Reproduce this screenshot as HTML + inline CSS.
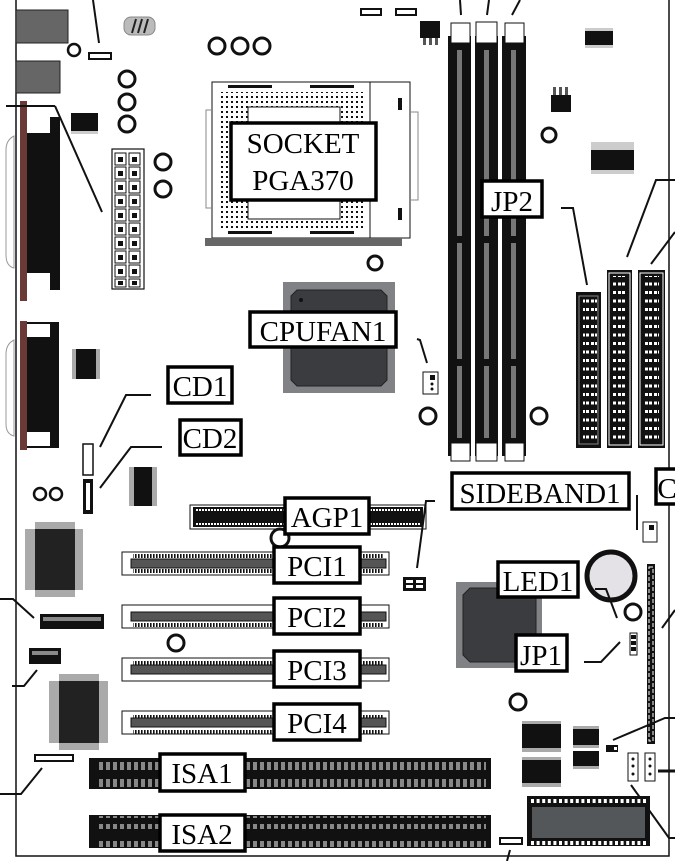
<!DOCTYPE html>
<html><head><meta charset="utf-8"><style>
html,body{margin:0;padding:0;background:#fff;width:675px;height:861px;overflow:hidden}
svg{display:block}
text{font-family:"Liberation Serif",serif;fill:#000}
</style></head><body>
<svg width="675" height="861" viewBox="0 0 675 861" xmlns="http://www.w3.org/2000/svg">
<defs>
<pattern id="dots" width="5" height="5" patternUnits="userSpaceOnUse"><rect x="1" y="1" width="2" height="2" fill="#111"/></pattern>
<pattern id="idepins" width="9" height="8.5" patternUnits="userSpaceOnUse"><rect x="1" y="2" width="3" height="3" fill="#fff"/><rect x="6" y="2" width="3" height="3" fill="#fff"/></pattern>
<pattern id="isapins" width="7" height="31" patternUnits="userSpaceOnUse"><rect x="1" y="4" width="4" height="8" fill="#888"/><rect x="1" y="18" width="4" height="8" fill="#888"/></pattern>
<pattern id="pcipins" width="3" height="23" patternUnits="userSpaceOnUse"><rect x="0" y="2" width="1.6" height="4" fill="#111"/><rect x="0" y="17" width="1.6" height="4" fill="#111"/></pattern>
</defs>
<path d="M16 0 V856 H669 V0" fill="none" stroke="#111" stroke-width="1.5"/>

<!-- top-left ports -->
<rect x="16" y="10" width="52" height="33" fill="#666" stroke="#222"/>
<rect x="16" y="61" width="44" height="32" fill="#666" stroke="#222"/>
<circle cx="74" cy="50" r="6" fill="none" stroke="#111" stroke-width="2.5"/>
<rect x="89" y="53" width="22" height="6" fill="#fff" stroke="#111" stroke-width="2"/>
<line x1="93" y1="0" x2="99" y2="43" stroke="#111" stroke-width="2"/>
<rect x="124" y="17" width="31" height="18" rx="7" fill="#bbb" stroke="#888"/>
<path d="M132 33 L136 19 M138 33 L142 19 M144 33 L148 19" stroke="#222" stroke-width="2"/>
<circle cx="127" cy="79" r="8" fill="none" stroke="#111" stroke-width="3"/>
<circle cx="127" cy="102" r="8" fill="none" stroke="#111" stroke-width="3"/>
<circle cx="127" cy="124" r="8" fill="none" stroke="#111" stroke-width="3"/>
<circle cx="163" cy="162" r="8" fill="none" stroke="#111" stroke-width="3"/>
<circle cx="163" cy="189" r="8" fill="none" stroke="#111" stroke-width="3"/>
<circle cx="217" cy="46" r="8" fill="none" stroke="#111" stroke-width="3"/>
<circle cx="240" cy="46" r="8" fill="none" stroke="#111" stroke-width="3"/>
<circle cx="262" cy="46" r="8" fill="none" stroke="#111" stroke-width="3"/>
<rect x="71" y="113" width="27" height="18" fill="#111"/><rect x="71" y="131" width="27" height="3" fill="#ccc"/>

<!-- parallel port -->
<path d="M14 136 Q6 140 6 150 V255 Q6 266 14 268 Z" fill="#fff" stroke="#999"/>
<rect x="26" y="117" width="34" height="173" fill="#111"/>
<rect x="26" y="117" width="24" height="16" fill="#fff"/>
<rect x="26" y="273" width="24" height="17" fill="#fff"/>
<rect x="20" y="101" width="7" height="200" fill="#6b3a36"/>
<line x1="6" y1="106" x2="55" y2="106" stroke="#111" stroke-width="2"/>
<line x1="55" y1="106" x2="102" y2="212" stroke="#111" stroke-width="2"/>
<!-- serial -->
<path d="M14 340 Q6 344 6 354 V424 Q6 434 14 436 Z" fill="#fff" stroke="#999"/>
<rect x="26" y="322" width="33" height="126" fill="#111"/>
<rect x="26" y="324" width="24" height="13" fill="#fff"/>
<rect x="26" y="432" width="24" height="14" fill="#fff"/>
<rect x="20" y="321" width="7" height="129" fill="#6b3a36"/>
<rect x="72" y="349" width="28" height="30" fill="#111"/><rect x="72" y="349" width="4" height="30" fill="#aaa"/><rect x="96" y="349" width="4" height="30" fill="#aaa"/>

<!-- ATX power -->
<rect x="112" y="149" width="32" height="140" fill="#fff" stroke="#111" stroke-width="1.2"/>
<g fill="none" stroke="#111">
<rect x="115" y="153" width="11" height="12"/><rect x="129" y="153" width="11" height="12"/>
<rect x="115" y="167" width="11" height="12"/><rect x="129" y="167" width="11" height="12"/>
<rect x="115" y="181" width="11" height="12"/><rect x="129" y="181" width="11" height="12"/>
<rect x="115" y="195" width="11" height="12"/><rect x="129" y="195" width="11" height="12"/>
<rect x="115" y="209" width="11" height="12"/><rect x="129" y="209" width="11" height="12"/>
<rect x="115" y="223" width="11" height="12"/><rect x="129" y="223" width="11" height="12"/>
<rect x="115" y="237" width="11" height="12"/><rect x="129" y="237" width="11" height="12"/>
<rect x="115" y="251" width="11" height="12"/><rect x="129" y="251" width="11" height="12"/>
<rect x="115" y="265" width="11" height="12"/><rect x="129" y="265" width="11" height="12"/>
<rect x="115" y="279" width="11" height="8"/><rect x="129" y="279" width="11" height="8"/>
</g>
<g fill="#111">
<rect x="118" y="157" width="5" height="5"/><rect x="132" y="157" width="5" height="5"/>
<rect x="118" y="171" width="5" height="5"/><rect x="132" y="171" width="5" height="5"/>
<rect x="118" y="185" width="5" height="5"/><rect x="132" y="185" width="5" height="5"/>
<rect x="118" y="199" width="5" height="5"/><rect x="132" y="199" width="5" height="5"/>
<rect x="118" y="213" width="5" height="5"/><rect x="132" y="213" width="5" height="5"/>
<rect x="118" y="227" width="5" height="5"/><rect x="132" y="227" width="5" height="5"/>
<rect x="118" y="241" width="5" height="5"/><rect x="132" y="241" width="5" height="5"/>
<rect x="118" y="255" width="5" height="5"/><rect x="132" y="255" width="5" height="5"/>
<rect x="118" y="269" width="5" height="5"/><rect x="132" y="269" width="5" height="5"/>
<rect x="118" y="281" width="5" height="4"/><rect x="132" y="281" width="5" height="4"/>
</g>

<!-- CPU socket -->
<rect x="212" y="82" width="198" height="156" fill="#fff" stroke="#111"/>
<line x1="370" y1="82" x2="370" y2="238" stroke="#111"/>
<rect x="220" y="92" width="146" height="138" fill="url(#dots)"/>
<rect x="248" y="107" width="92" height="112" fill="#fff" stroke="#111"/>
<rect x="228" y="85" width="44" height="3" fill="#111"/><rect x="310" y="85" width="44" height="3" fill="#111"/>
<rect x="228" y="231" width="44" height="3" fill="#111"/><rect x="310" y="231" width="44" height="3" fill="#111"/>
<rect x="398" y="98" width="4" height="12" fill="#111"/><rect x="398" y="208" width="4" height="12" fill="#111"/>
<rect x="205" y="238" width="197" height="8" fill="#666"/>
<path d="M212 110 H206 V208 H212" fill="none" stroke="#888"/>
<path d="M410 112 H418 V200 H410" fill="none" stroke="#888"/>
<circle cx="375" cy="263" r="7" fill="none" stroke="#111" stroke-width="3"/>
<rect x="361" y="9" width="20" height="6" fill="#fff" stroke="#111" stroke-width="2"/>
<rect x="396" y="9" width="20" height="6" fill="#fff" stroke="#111" stroke-width="2"/>
<rect x="420" y="21" width="20" height="17" fill="#111"/><rect x="423" y="38" width="3" height="7" fill="#555"/><rect x="429" y="38" width="3" height="7" fill="#555"/><rect x="435" y="38" width="3" height="7" fill="#555"/>

<!-- North bridge -->
<rect x="283" y="282" width="112" height="111" fill="#808285"/>
<path d="M297 290 H381 L387 296 V380 L381 386 H297 L291 380 V296 Z" fill="#3a3c3f" stroke="#222"/>
<circle cx="301" cy="300" r="2" fill="#111"/>

<!-- DIMMs -->
<g>
<rect x="448" y="36" width="23" height="420" fill="#111"/>
<rect x="475" y="36" width="23" height="420" fill="#111"/>
<rect x="502" y="36" width="24" height="420" fill="#111"/>
<g fill="#777">
<rect x="457" y="50" width="5" height="186"/><rect x="457" y="243" width="5" height="116"/><rect x="457" y="366" width="5" height="72"/>
<rect x="484" y="50" width="5" height="186"/><rect x="484" y="243" width="5" height="116"/><rect x="484" y="366" width="5" height="72"/>
<rect x="511" y="50" width="5" height="186"/><rect x="511" y="243" width="5" height="116"/><rect x="511" y="366" width="5" height="72"/>
</g>
<rect x="451" y="23" width="19" height="20" fill="#fff" stroke="#111"/>
<rect x="476" y="22" width="21" height="21" fill="#fff" stroke="#111"/>
<rect x="505" y="23" width="19" height="20" fill="#fff" stroke="#111"/>
<rect x="451" y="443" width="19" height="18" fill="#fff" stroke="#111"/>
<rect x="476" y="443" width="21" height="18" fill="#fff" stroke="#111"/>
<rect x="505" y="443" width="19" height="18" fill="#fff" stroke="#111"/>
<line x1="461" y1="15" x2="460" y2="0" stroke="#111" stroke-width="2"/>
<line x1="487" y1="15" x2="489" y2="0" stroke="#111" stroke-width="2"/>
<line x1="512" y1="15" x2="520" y2="0" stroke="#111" stroke-width="2"/>
</g>

<!-- right top parts -->
<rect x="585" y="31" width="28" height="14" fill="#111"/><rect x="585" y="28" width="28" height="3" fill="#ccc"/><rect x="585" y="45" width="28" height="3" fill="#ccc"/>
<rect x="551" y="95" width="20" height="17" fill="#111"/><rect x="553" y="87" width="3" height="8" fill="#555"/><rect x="559" y="87" width="3" height="8" fill="#555"/><rect x="565" y="87" width="3" height="8" fill="#555"/>
<circle cx="549" cy="135" r="7" fill="none" stroke="#111" stroke-width="3"/>
<rect x="591" y="150" width="43" height="20" fill="#111"/><rect x="591" y="142" width="43" height="8" fill="#ccc"/><rect x="591" y="170" width="43" height="4" fill="#ccc"/>

<!-- IDE / FDD -->
<rect x="576" y="292" width="25" height="156" fill="#111"/><rect x="579" y="296" width="19" height="148" fill="none" stroke="#888"/><rect x="583" y="298" width="14" height="144" fill="url(#idepins)"/>
<rect x="607" y="270" width="25" height="178" fill="#111"/><rect x="609" y="273" width="21" height="172" fill="none" stroke="#fff"/><rect x="613" y="276" width="14" height="168" fill="url(#idepins)"/>
<rect x="638" y="270" width="27" height="178" fill="#111"/><rect x="640" y="273" width="23" height="172" fill="none" stroke="#fff"/><rect x="645" y="276" width="14" height="168" fill="url(#idepins)"/>
<path d="M561 208 H573 L587 285" fill="none" stroke="#111" stroke-width="2"/>
<path d="M675 180 H656 L627 257" fill="none" stroke="#111" stroke-width="2"/>
<path d="M675 232 L651 264" fill="none" stroke="#111" stroke-width="2"/>

<!-- CPUFAN header -->
<path d="M417 339 L420 340 L427 363" fill="none" stroke="#111" stroke-width="2"/>
<rect x="423" y="372" width="15" height="22" fill="#fff" stroke="#111"/><rect x="430" y="375" width="5" height="5" fill="#111"/><circle cx="432" cy="384" r="1.5" fill="#111"/><circle cx="432" cy="389" r="1.5" fill="#111"/>
<circle cx="428" cy="416" r="8" fill="none" stroke="#111" stroke-width="3"/>
<circle cx="539" cy="416" r="8" fill="none" stroke="#111" stroke-width="3"/>

<!-- CD headers -->
<path d="M151 395 H126 L100 447" fill="none" stroke="#111" stroke-width="2"/>
<path d="M162 447 H131 L100 488" fill="none" stroke="#111" stroke-width="2"/>
<rect x="83" y="444" width="10" height="31" fill="#fff" stroke="#111" stroke-width="1.5"/>
<rect x="83" y="479" width="10" height="35" fill="#111"/><rect x="86" y="483" width="4" height="27" fill="#fff"/>
<rect x="129" y="467" width="28" height="39" fill="#111"/><rect x="129" y="467" width="5" height="39" fill="#aaa"/><rect x="152" y="467" width="5" height="39" fill="#aaa"/>
<circle cx="40" cy="494" r="6" fill="none" stroke="#111" stroke-width="2.5"/>
<circle cx="56" cy="494" r="6" fill="none" stroke="#111" stroke-width="2.5"/>

<!-- left chips -->
<rect x="35" y="522" width="40" height="75" fill="#aaa"/><rect x="25" y="529" width="58" height="61" fill="#aaa"/><rect x="35" y="529" width="40" height="61" fill="#222"/>
<rect x="59" y="674" width="40" height="76" fill="#aaa"/><rect x="49" y="681" width="59" height="62" fill="#aaa"/><rect x="59" y="681" width="40" height="62" fill="#222"/>
<rect x="40" y="614" width="64" height="15" fill="#111"/><rect x="43" y="617" width="58" height="4" fill="#888"/>
<rect x="29" y="648" width="32" height="16" fill="#111"/><rect x="32" y="651" width="26" height="4" fill="#888"/>
<rect x="35" y="755" width="38" height="6" fill="#fff" stroke="#111" stroke-width="2"/>
<path d="M0 599 H13 L34 618" fill="none" stroke="#111" stroke-width="2"/>
<path d="M12 686 H24 L37 670" fill="none" stroke="#111" stroke-width="2"/>
<path d="M0 794 H21 L42 768" fill="none" stroke="#111" stroke-width="2"/>

<!-- AGP slot -->
<rect x="190" y="505" width="236" height="24" fill="#fff" stroke="#111"/>
<rect x="193" y="507" width="230" height="20" fill="#111"/>
<line x1="196" y1="510" x2="420" y2="510" stroke="#fff" stroke-width="2" stroke-dasharray="2 1"/>
<line x1="196" y1="524" x2="420" y2="524" stroke="#fff" stroke-width="2" stroke-dasharray="2 1"/>
<path d="M435 501 H426 L417 568" fill="none" stroke="#111" stroke-width="2"/>
<rect x="403" y="577" width="23" height="14" fill="#111"/><rect x="406" y="580" width="7" height="3" fill="#fff"/><rect x="416" y="580" width="7" height="3" fill="#fff"/><rect x="406" y="585" width="7" height="3" fill="#fff"/><rect x="416" y="585" width="7" height="3" fill="#fff"/>
<circle cx="280" cy="538" r="9" fill="none" stroke="#111" stroke-width="3"/>

<!-- PCI slots -->
<g>
<rect x="122" y="552" width="267" height="23" fill="#fff" stroke="#111"/><rect x="133" y="552" width="250" height="23" fill="url(#pcipins)"/><rect x="131" y="559" width="255" height="9" fill="#555" stroke="#111"/>
<rect x="122" y="605" width="267" height="23" fill="#fff" stroke="#111"/><rect x="133" y="605" width="250" height="23" fill="url(#pcipins)"/><rect x="131" y="612" width="255" height="9" fill="#555" stroke="#111"/>
<rect x="122" y="658" width="267" height="23" fill="#fff" stroke="#111"/><rect x="133" y="658" width="250" height="23" fill="url(#pcipins)"/><rect x="131" y="665" width="255" height="9" fill="#555" stroke="#111"/>
<rect x="122" y="711" width="267" height="23" fill="#fff" stroke="#111"/><rect x="133" y="711" width="250" height="23" fill="url(#pcipins)"/><rect x="131" y="718" width="255" height="9" fill="#555" stroke="#111"/>
</g>
<circle cx="176" cy="643" r="8" fill="none" stroke="#111" stroke-width="3"/>

<!-- ISA slots -->
<rect x="89" y="758" width="402" height="31" fill="#111"/><rect x="96" y="758" width="390" height="31" fill="url(#isapins)"/><rect x="96" y="771" width="390" height="4" fill="#111"/>
<rect x="89" y="815" width="402" height="33" fill="#111"/><rect x="96" y="816" width="390" height="31" fill="url(#isapins)"/><rect x="96" y="829" width="390" height="4" fill="#111"/>

<!-- south bridge area -->
<rect x="456" y="582" width="86" height="86" fill="#808285"/>
<path d="M470 588 H536 V662 H470 L463 655 V595 Z" fill="#3a3c3f" stroke="#222"/>
<circle cx="611" cy="576" r="24" fill="#e4e2e6" stroke="#111" stroke-width="5"/>
<path d="M595 589 H606 L617 618" fill="none" stroke="#111" stroke-width="2"/>
<circle cx="633" cy="612" r="8" fill="none" stroke="#111" stroke-width="3"/>
<rect x="630" y="633" width="7" height="22" fill="#fff" stroke="#111"/><rect x="631" y="635" width="5" height="4" fill="#111"/><rect x="631" y="641" width="5" height="4" fill="#111"/><rect x="631" y="647" width="5" height="4" fill="#111"/>
<path d="M584 662 H601 L620 642" fill="none" stroke="#111" stroke-width="2"/>
<circle cx="518" cy="702" r="8" fill="none" stroke="#111" stroke-width="3"/>
<path d="M637 495 V530" stroke="#111" stroke-width="2"/>
<rect x="643" y="522" width="14" height="20" fill="#fff" stroke="#111"/><rect x="649" y="525" width="5" height="5" fill="#111"/>
<rect x="647" y="564" width="8" height="180" fill="#111"/>
<rect x="649" y="567" width="4" height="174" fill="none" stroke="#fff" stroke-width="1" stroke-dasharray="4 2"/>
<path d="M675 610 L662 628" stroke="#111" stroke-width="2"/>
<path d="M675 718 H665 L613 740" fill="none" stroke="#111" stroke-width="2"/>
<rect x="606" y="745" width="12" height="7" fill="#111"/><rect x="614" y="747" width="3" height="3" fill="#fff"/>
<rect x="522" y="724" width="39" height="24" fill="#111"/><rect x="522" y="721" width="39" height="3" fill="#aaa"/><rect x="522" y="748" width="39" height="4" fill="#aaa"/>
<rect x="522" y="760" width="39" height="23" fill="#111"/><rect x="522" y="757" width="39" height="3" fill="#aaa"/><rect x="522" y="783" width="39" height="4" fill="#aaa"/>
<rect x="573" y="729" width="26" height="16" fill="#111"/><rect x="573" y="726" width="26" height="3" fill="#aaa"/><rect x="573" y="745" width="26" height="3" fill="#aaa"/>
<rect x="573" y="751" width="26" height="15" fill="#111"/><rect x="573" y="766" width="26" height="3" fill="#aaa"/>
<rect x="628" y="753" width="10" height="28" fill="#fff" stroke="#111"/><circle cx="633" cy="759" r="1.5" fill="#111"/><circle cx="633" cy="766" r="1.5" fill="#111"/><circle cx="633" cy="774" r="1.5" fill="#111"/>
<rect x="645" y="753" width="10" height="28" fill="#fff" stroke="#111"/><circle cx="650" cy="759" r="1.5" fill="#111"/><circle cx="650" cy="766" r="1.5" fill="#111"/><circle cx="650" cy="774" r="1.5" fill="#111"/>
<path d="M658 771 H675" stroke="#111" stroke-width="3"/>
<path d="M631 785 L669 838 H675" fill="none" stroke="#111" stroke-width="2"/>
<rect x="527" y="796" width="123" height="50" fill="#111"/>
<rect x="532" y="807" width="113" height="31" fill="#54575a"/>
<line x1="531" y1="843" x2="646" y2="843" stroke="#fff" stroke-width="4" stroke-dasharray="3 2.6"/>
<line x1="531" y1="801" x2="646" y2="801" stroke="#fff" stroke-width="4" stroke-dasharray="3 2.6"/>
<rect x="500" y="838" width="22" height="6" fill="#fff" stroke="#111" stroke-width="2"/>
<line x1="510" y1="850" x2="507" y2="861" stroke="#111" stroke-width="2"/>

<!-- LABELS -->
<g fill="#fff" stroke="#000" stroke-width="3.5">
<rect x="231" y="123" width="145" height="77"/>
<rect x="482" y="181" width="60" height="36"/>
<rect x="250" y="312" width="146" height="35"/>
<rect x="168" y="367" width="64" height="36"/>
<rect x="180" y="420" width="61" height="35"/>
<rect x="452" y="473" width="177" height="36"/>
<rect x="656" y="469" width="22" height="35"/>
<rect x="285" y="498" width="84" height="36"/>
<rect x="498" y="562" width="80" height="35"/>
<rect x="516" y="635" width="51" height="36"/>
<rect x="274" y="547" width="86" height="36"/>
<rect x="274" y="598" width="86" height="36"/>
<rect x="274" y="651" width="86" height="36"/>
<rect x="274" y="704" width="86" height="36"/>
<rect x="160" y="754" width="85" height="37"/>
<rect x="160" y="815" width="85" height="36"/>
</g>
<g font-size="29" text-anchor="middle">
<text x="303" y="153">SOCKET</text>
<text x="303" y="190">PGA370</text>
<text x="512" y="211">JP2</text>
<text x="323" y="341">CPUFAN1</text>
<text x="200" y="396">CD1</text>
<text x="210" y="448">CD2</text>
<text x="540" y="503">SIDEBAND1</text>
<text x="667" y="498">C</text>
<text x="327" y="527">AGP1</text>
<text x="538" y="591">LED1</text>
<text x="541" y="665">JP1</text>
<text x="317" y="576">PCI1</text>
<text x="317" y="627">PCI2</text>
<text x="317" y="680">PCI3</text>
<text x="317" y="733">PCI4</text>
<text x="202" y="783">ISA1</text>
<text x="202" y="844">ISA2</text>
</g>
</svg>
</body></html>
